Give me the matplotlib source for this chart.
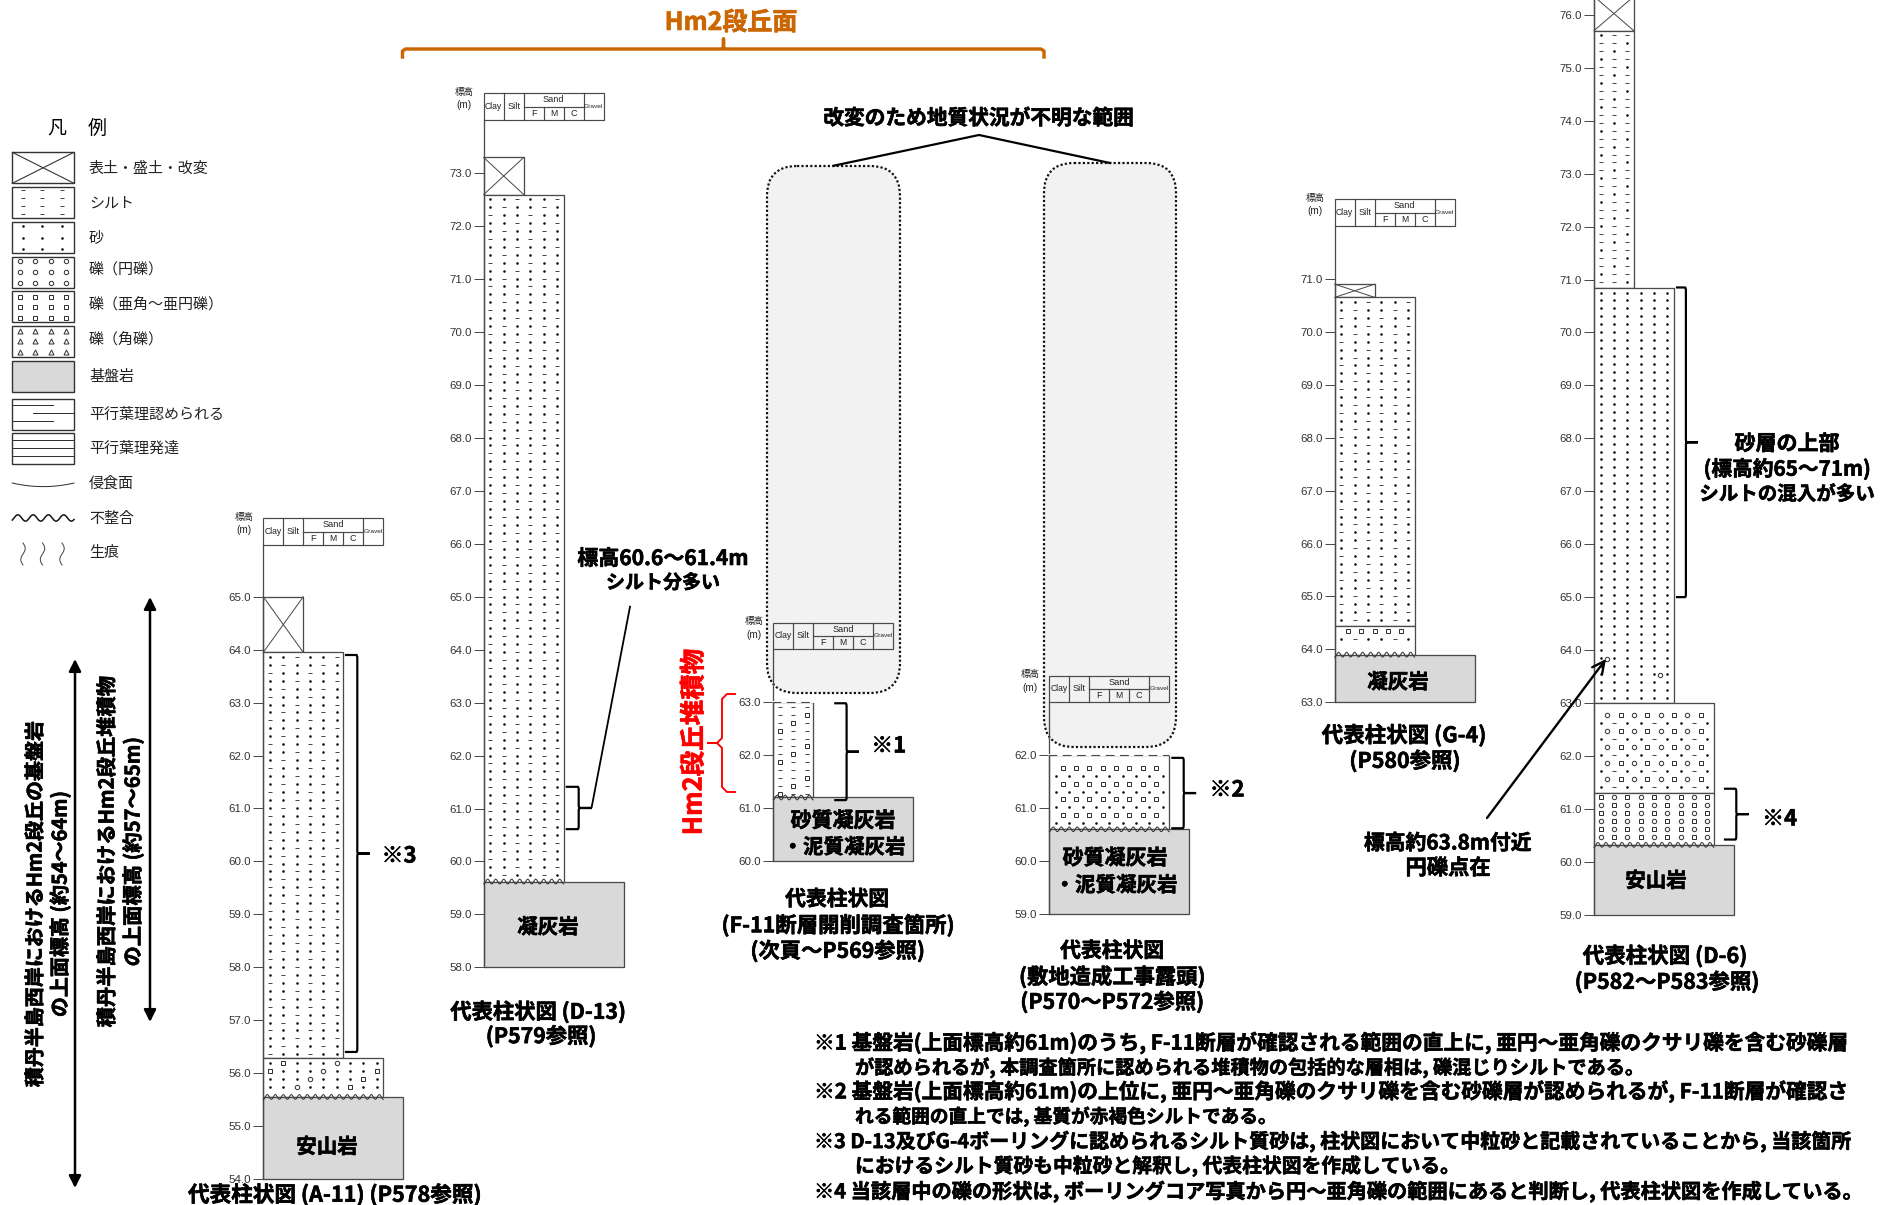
import numpy as np
import matplotlib
matplotlib.use("Agg")
import matplotlib.pyplot as plt
import matplotlib.patheffects as pe
from matplotlib.patches import Rectangle, FancyBboxPatch, PathPatch
from matplotlib.path import Path

W, H = 1896, 1205
PX_PER_M = 52.93
UNIT_PX = 20.0

# ---------- data ----------
HEADER_CLASSES = ["Clay", "Silt", "F", "M", "C", "Gravel"]

A11_TOPS = [65.0, 63.95, 56.28, 55.55]
A11_BOTS = [63.95, 56.28, 55.55, 54.0]
A11_WIDTHS = [2, 4, 6, 7]
A11_KINDS = ["fill", "silty", "gravel_a11", "rock"]
A11_TICKS = [54, 55, 56, 57, 58, 59, 60, 61, 62, 63, 64, 65]

D13_TOPS = [73.3, 72.6, 59.62]
D13_BOTS = [72.6, 59.62, 58.0]
D13_WIDTHS = [2, 4, 7]
D13_KINDS = ["fill", "silty", "rock"]
D13_TICKS = list(range(58, 74))

F11_TOPS = [63.0, 61.2]
F11_BOTS = [61.2, 60.0]
F11_WIDTHS = [2, 7]
F11_KINDS = ["silt_gravel", "rock"]
F11_TICKS = [60, 61, 62, 63]

SITE_TOPS = [62.0, 60.6]
SITE_BOTS = [60.6, 59.0]
SITE_WIDTHS = [6, 7]
SITE_KINDS = ["gravel_site", "rock"]
SITE_TICKS = [59, 60, 61, 62]

G4_TOPS = [70.9, 70.65, 64.44, 63.9]
G4_BOTS = [70.65, 64.44, 63.9, 63.0]
G4_WIDTHS = [2, 4, 4, 7]
G4_KINDS = ["fill", "silty", "gravel_g4", "rock"]
G4_TICKS = list(range(63, 72))

D6_TOPS = [76.35, 75.7, 70.84, 63.0, 61.3, 60.32]
D6_BOTS = [75.7, 70.84, 63.0, 61.3, 60.32, 59.0]
D6_WIDTHS = [2, 2, 4, 6, 6, 7]
D6_KINDS = ["fill", "silty_d6", "sand", "gravel_d6u", "gravel_d6l", "rock"]
D6_TICKS = list(range(59, 77))
D6_CIRCLE_X = [0.64, 3.3]
D6_CIRCLE_E = [63.83, 63.53]

LEGEND_LABELS = ["表土・盛土・改変", "シルト", "砂", "礫（円礫）", "礫（亜角～亜円礫）", "礫（角礫）",
                 "基盤岩", "平行葉理認められる", "平行葉理発達", "侵食面", "不整合", "生痕"]

NOTES = [
    "※1 基盤岩(上面標高約61m)のうち, F-11断層が確認される範囲の直上に, 亜円～亜角礫のクサリ礫を含む砂礫層",
    "が認められるが, 本調査箇所に認められる堆積物の包括的な層相は, 礫混じりシルトである。",
    "※2 基盤岩(上面標高約61m)の上位に, 亜円～亜角礫のクサリ礫を含む砂礫層が認められるが, F-11断層が確認さ",
    "れる範囲の直上では, 基質が赤褐色シルトである。",
    "※3 D-13及びG-4ボーリングに認められるシルト質砂は, 柱状図において中粒砂と記載されていることから, 当該箇所",
    "におけるシルト質砂も中粒砂と解釈し, 代表柱状図を作成している。",
    "※4 当該層中の礫の形状は, ボーリングコア写真から円～亜角礫の範囲にあると判断し, 代表柱状図を作成している。",
]

# ---------- style ----------
JP = "Noto Sans CJK JP"
LAT = ["Liberation Sans"]
NARROW = ["Liberation Sans Narrow", "Liberation Sans"]
LINE = "#4a4a4a"
ROCK = "#D9D9D9"
ORANGE = "#CC6600"
RED = "#FF0000"
def pt(px):
    return px * 0.72

fig = plt.figure(figsize=(W / 100, H / 100), dpi=100, facecolor="white")

under = fig.add_axes([0, 0, 1, 1], zorder=0)
under.set_xlim(0, W); under.set_ylim(H, 0); under.axis("off")
top = fig.add_axes([0, 0, 1, 1], zorder=5)
top.set_xlim(0, W); top.set_ylim(H, 0); top.axis("off"); top.patch.set_alpha(0)


def T(x, y, s, size=19, weight="bold", color="#000000", rot=0, ha="center", **kw):
    t = top.text(x, y, s, fontsize=pt(size), fontweight=weight, color=color, rotation=rot,
                 ha=ha, va="center", family=[JP, "DejaVu Sans"], rotation_mode="anchor", **kw)
    if weight == "bold":
        t.set_path_effects([pe.withStroke(linewidth=pt(0.6), foreground=color)])
    return t


def marks(ax, xs, ys, kind):
    if len(xs) == 0:
        return
    st = dict(ls="none", clip_on=False, zorder=4)
    if kind == "dot":
        ax.plot(xs, ys, marker="o", ms=pt(2.6), mfc="#111111", mec="#111111", mew=0, **st)
    elif kind == "dash":
        ax.plot(xs, ys, marker="_", ms=pt(5.0), mec="#333333", mew=pt(0.9), **st)
    elif kind == "square":
        ax.plot(xs, ys, marker="s", ms=pt(4.4), mfc="white", mec="#333333", mew=pt(1.0), **st)
    elif kind == "circle":
        ax.plot(xs, ys, marker="o", ms=pt(4.4), mfc="white", mec="#333333", mew=pt(1.0), **st)
    elif kind == "tri":
        ax.plot(xs, ys, marker="^", ms=pt(5), mfc="white", mec="#333333", mew=pt(1.0), **st)


STEP_X = 13.33 / UNIT_PX
STEP_E = 7.95 / PX_PER_M


def pattern(ax, kind, t, b, w):
    rows = [t - (4.5 / PX_PER_M + k * STEP_E) for k in range(int((t - b) / STEP_E) + 1)]
    rows = [r for r in rows if r > b + 1 / PX_PER_M]
    collect = {"dot": [[], []], "dash": [[], []], "square": [[], []], "circle": [[], []]}
    def put(k, x, y):
        collect[k][0].append(x); collect[k][1].append(y)
    n = int(round(w / STEP_X))
    if kind == "silty":
        for r, e in enumerate(rows):
            for i in range(n):
                put("dash" if (i + r) % 3 == 2 else "dot", (i + 0.5) * STEP_X, e)
    elif kind == "silty_d6":
        for r, e in enumerate(rows):
            for i in range(n):
                put("dot" if (i + r) % 3 == 0 else "dash", (i + 0.5) * STEP_X, e)
    elif kind == "sand":
        for r, e in enumerate(rows):
            for i in range(n):
                put("dot", (i + 0.5) * STEP_X, e)
    elif kind == "silt_gravel":
        for r, e in enumerate(rows):
            for i in range(3):
                sq = (r % 4 == 1 and i == 2) or (r % 4 == 2 and i == 1) or (r % 4 == 3 and i == 0)
                put("square" if sq else "dash", (i + 0.5) * STEP_X, e)
    elif kind == "gravel_a11":
        special = {(0, 1): "square", (0, 5): "circle", (1, 0): "square", (1, 4): "circle",
                   (1, 8): "square", (2, 3): "circle", (2, 7): "square", (3, 2): "circle",
                   (3, 6): "square"}
        for r, e in enumerate(rows[:4]):
            for i in range(9):
                put(special.get((r, i), "dot"), (i + 0.5) * STEP_X, e)
    elif kind == "gravel_site":
        for r, e in enumerate(rows[1:]):
            if r % 2 == 0:
                for i in range(8):
                    put("square", (i + 1) * STEP_X, e)
            else:
                for i in range(9):
                    put("dot", (i + 0.5) * STEP_X, e)
    elif kind == "gravel_g4":
        for r, e in enumerate(rows[:2]):
            if r % 2 == 0:
                for i in range(5):
                    put("square", (i + 1) * STEP_X, e)
            else:
                for i in range(6):
                    put("dash" if i % 3 == 1 else "dot", (i + 0.5) * STEP_X, e)
    elif kind == "gravel_d6u":
        for r, e in enumerate(rows[1:]):
            if r % 2 == 0:
                for i in range(8):
                    put("circle" if i % 2 == 0 else "square", (i + 1) * STEP_X, e)
            else:
                for i in range(9):
                    put("dash" if i % 3 == 1 else "dot", (i + 0.5) * STEP_X, e)
    elif kind == "gravel_d6l":
        for r, e in enumerate(rows):
            for i in range(9):
                put("square" if (i + r) % 2 == 0 else "circle", (i + 0.5) * STEP_X, e)
    for k, (xs, ys) in collect.items():
        marks(ax, xs, ys, k)


def brace(ax, x0, e_top, e_bot, color="black", bulge=0.62, tip=0.62, lw=2.2):
    xm = x0 + bulge
    em = (e_top + e_bot) / 2
    r = 3 / PX_PER_M
    verts = [(x0, e_top), (xm - .05, e_top), (xm, e_top), (xm, e_top - r),
             (xm, em + r), (xm, em), (xm + .05, em), (xm + tip, em),
             (xm + .05, em), (xm, em), (xm, em - r),
             (xm, e_bot + r), (xm, e_bot), (xm - .05, e_bot), (x0, e_bot)]
    codes = [Path.MOVETO, Path.LINETO, Path.CURVE3, Path.CURVE3,
             Path.LINETO, Path.CURVE3, Path.CURVE3, Path.LINETO,
             Path.LINETO, Path.CURVE3, Path.CURVE3,
             Path.LINETO, Path.CURVE3, Path.CURVE3, Path.LINETO]
    ax.add_patch(PathPatch(Path(verts, codes), fc="none", ec=color, lw=pt(lw), clip_on=False, zorder=6))


def column(left, ref_e, ref_y, tops, bots, widths, kinds, ticks, header_e=None):
    emin = bots[-1]
    emax = header_e if header_e is not None else max(tops)
    y0 = ref_y + (ref_e - emin) * PX_PER_M
    y1 = ref_y + (ref_e - emax) * PX_PER_M
    ax = fig.add_axes([left / W, 1 - y0 / H, 7 * UNIT_PX / W, (y0 - y1) / H], zorder=2)
    ax.patch.set_alpha(0)
    ax.set_xlim(0, 7); ax.set_ylim(emin, emax)
    for s in ("top", "right", "bottom"):
        ax.spines[s].set_visible(False)
    ax.spines["left"].set_color(LINE); ax.spines["left"].set_linewidth(pt(1.3))
    ax.set_xticks([])
    ax.set_yticks(ticks)
    ax.set_yticklabels([f"{v:.1f}" for v in ticks], family=LAT, fontsize=pt(11.5), color="#333333")
    ax.tick_params(axis="y", length=pt(10), width=pt(1.0), color=LINE, pad=pt(2))
    for t, b, w, k in zip(tops, bots, widths, kinds):
        fc = ROCK if k == "rock" else "white"
        ax.add_patch(Rectangle((0, b), w, t - b, fc=fc, ec=LINE, lw=pt(1.3), clip_on=False, zorder=2))
        if k == "fill":
            ax.plot([0, w], [t, b], color=LINE, lw=pt(1.0), clip_on=False, zorder=3)
            ax.plot([0, w], [b, t], color=LINE, lw=pt(1.0), clip_on=False, zorder=3)
        elif k != "rock":
            pattern(ax, k, t, b, w)
    # header
    if header_e is not None:
        h = 26.6 / PX_PER_M
        hb, ht = header_e, header_e + h
        hs = dict(color=LINE, lw=pt(1.2), clip_on=False, zorder=3)
        ax.add_patch(Rectangle((0, hb), 6, h, fc="none", ec=LINE, lw=pt(1.2), clip_on=False))
        for xv in (1, 2, 5):
            ax.plot([xv, xv], [hb, ht], **hs)
        ax.plot([2, 5], [hb + h / 2] * 2, **hs)
        for xv in (3, 4):
            ax.plot([xv, xv], [hb, hb + h / 2], **hs)
        hc = dict(ha="center", va="center", family=NARROW, color="#222222", clip_on=False)
        ax.text(.5, hb + h / 2, HEADER_CLASSES[0], fontsize=pt(8.6), **hc)
        ax.text(1.5, hb + h / 2, HEADER_CLASSES[1], fontsize=pt(9.2), **hc)
        ax.text(2.5, hb + h / 4, HEADER_CLASSES[2], fontsize=pt(9.2), **hc)
        ax.text(3.5, hb + h / 4, HEADER_CLASSES[3], fontsize=pt(8.6), **hc)
        ax.text(4.5, hb + h / 4, HEADER_CLASSES[4], fontsize=pt(9.2), **hc)
        ax.text(3.5, hb + h * .75, "Sand", fontsize=pt(9.2), **hc)
        ax.text(5.5, hb + h / 2, HEADER_CLASSES[5], fontsize=pt(6.5), **hc)
        ax.text(-.97, ht + 1.2 / PX_PER_M, "標高", fontsize=pt(9.5), ha="center", va="center",
                family=[JP], color="#222222", clip_on=False)
        ax.text(-.97, ht - 12 / PX_PER_M, "(m)", fontsize=pt(10), ha="center", va="center",
                family=LAT, color="#222222", clip_on=False)
    # unconformity
    for i, k in enumerate(kinds):
        if k == "rock" and i > 0:
            w_up = widths[i - 1]
            xw = np.linspace(0, w_up, int(w_up * 30))
            e0 = tops[i]
            yw = e0 + (-2.4 * np.cos(2 * np.pi * xw * UNIT_PX / 8.0)) / PX_PER_M
            ax.plot(xw, yw, color="#333333", lw=pt(1.0), clip_on=False, zorder=4)
    return ax


# ---------- unknown ranges ----------
for x0, x1, y0, y1 in [(767, 900, 166, 693), (1044, 1176, 163, 747)]:
    under.add_patch(FancyBboxPatch((x0 + 30, y0 + 30), x1 - x0 - 60, y1 - y0 - 60,
                                   boxstyle="round,pad=30,rounding_size=30", fc="#F2F2F2",
                                   ec="#111111", lw=pt(2.2), ls=(0, (1, 1))))

# ---------- columns ----------
a11 = column(263.3, 54, 1179, A11_TOPS, A11_BOTS, A11_WIDTHS, A11_KINDS, A11_TICKS, header_e=65.98)
d13 = column(483.7, 58, 967.3, D13_TOPS, D13_BOTS, D13_WIDTHS, D13_KINDS, D13_TICKS, header_e=74.01)
f11 = column(773.2, 60, 861, F11_TOPS, F11_BOTS, F11_WIDTHS, F11_KINDS, F11_TICKS, header_e=64.0)
site = column(1049.3, 59, 914, SITE_TOPS, SITE_BOTS, SITE_WIDTHS, SITE_KINDS, SITE_TICKS, header_e=63.0)
g4 = column(1334.7, 63, 702.3, G4_TOPS, G4_BOTS, G4_WIDTHS, G4_KINDS, G4_TICKS, header_e=72.0)
d6 = column(1593.9, 59, 914.7, D6_TOPS, D6_BOTS, D6_WIDTHS, D6_KINDS, D6_TICKS)
marks(d6, D6_CIRCLE_X, D6_CIRCLE_E, "circle")

# dashed top edges on the two outcrops
for ax, e, w in ((f11, 63.0, 2), (site, 62.0, 6)):
    ax.plot([0, w], [e, e], color="white", lw=pt(2), clip_on=False, zorder=3)
    ax.plot([-.05, w], [e, e], color=LINE, lw=pt(1.1), ls=(0, (8, 5)), clip_on=False, zorder=3)

# brackets in elevation units
brace(a11, 4.08, 63.9, 56.4)
brace(d13, 4.1, 61.41, 60.61, bulge=.65, tip=.65)
brace(f11, 3.05, 62.98, 61.15)
brace(site, 6.1, 61.95, 60.62)
brace(d6, 6.5, 61.38, 60.42)
brace(d6, 4.1, 70.85, 65.0, bulge=.5, tip=.6)

# ---------- legend ----------
T(57, 128, "凡", size=19, weight="regular")
T(97, 128, "例", size=19, weight="regular")
BOX_TOPS = [152.3, 187.3, 221.7, 256.7, 291.3, 325.7, 360.7, 398.7, 433.3]
for yt in BOX_TOPS:
    top.add_patch(Rectangle((12.3, yt), 61.7, 31, fc="white", ec="#333333", lw=pt(1.4), zorder=1))
top.patches[6].set_facecolor(ROCK)
top.plot([12.3, 74], [152.3, 183.3], color="#333333", lw=pt(1.1))
top.plot([12.3, 74], [183.3, 152.3], color="#333333", lw=pt(1.1))
xs3 = [23.5, 42.5, 62]
xs4 = [20, 35.5, 50.7, 66]
for y in (190, 197.5, 205.7, 213.5):
    marks(top, xs3, [y] * 3, "dash")
for y in (226, 237.5, 249):
    marks(top, xs3, [y] * 3, "dot")
for kind, yy in (("circle", (261, 272, 282.5)), ("square", (296.5, 306.5, 317.5)), ("tri", (330.5, 340.5, 351.5))):
    for y in yy:
        marks(top, xs4, [y] * 4, kind)
for xa, xb, y in ((12.3, 53, 405), (33, 74, 413), (12.3, 53, 421)):
    top.plot([xa, xb], [y, y], color="#333333", lw=pt(1.0))
for y in (440, 448, 456):
    top.plot([12.3, 74], [y, y], color="#333333", lw=pt(1.0))
xe = np.linspace(12.3, 74, 60)
top.plot(xe, 483 + 3.6 * (1 - ((xe - 43.2) / 30.9) ** 2), color="#333333", lw=pt(1.0))
top.plot(xe, 518 - 3.2 * np.sin(2 * np.pi * (xe - 14) / 15.3), color="#111111", lw=pt(1.5))
yb = np.linspace(543, 565, 40)
for xb in (23, 42.5, 62):
    top.plot(xb + 2.2 * np.sin(2 * np.pi * (yb - 543) / 22), yb, color="#444444", lw=pt(1.0))
LEG_Y = [169, 203.5, 238, 270, 305, 340.5, 376.5, 414.5, 449, 484, 518.5, 553.5]
for y, s in zip(LEG_Y, LEGEND_LABELS):
    T(89, y, s, size=15, weight="regular", ha="left", color="#222222")

# ---------- arrows + axis titles ----------
for x, y0, y1 in ((150, 597, 1022), (75, 659, 1188)):
    top.annotate("", xy=(x, y0), xytext=(x, y1),
                 arrowprops=dict(arrowstyle="<|-|>", color="black", lw=1.8, mutation_scale=18, shrinkA=0, shrinkB=0))
T(107, 852, "積丹半島西岸におけるHm2段丘堆積物", size=20.3, rot=90)
T(133, 852, "の上面標高 (約57～65m)", size=20.3, rot=90)
T(35, 904, "積丹半島西岸におけるHm2段丘の基盤岩", size=20, rot=90)
T(60, 904, "の上面標高 (約54～64m)", size=20, rot=90)

# ---------- top labels ----------
T(731, 23, "Hm2段丘面", size=25, color=ORANGE)
bx0, bx1, bm, by, byt, byb = 402.5, 1044, 723.5, 49, 39, 57
top.plot([bx0, bx0, bx0 + 3, bm - 1, bm, bm, bm, bm + 1, bx1 - 3, bx1, bx1],
         [byb, by + 2, by, by, by - 1, byt, by - 1, by, by, by + 2, byb],
         color=ORANGE, lw=pt(3.4), solid_joinstyle="round")
T(978, 118, "改変のため地質状況が不明な範囲", size=20.7)
top.plot([833.7, 979, 1110], [165.7, 135, 163], color="black", lw=pt(2.2))

# ---------- labels on columns ----------
T(663, 558.5, "標高60.6～61.4m", size=21)
T(663, 583, "シルト分多い", size=19)
top.plot([630, 591.7], [606.7, 807], color="black", lw=pt(1.8))
T(399, 856, "※3", size=22)
T(888.6, 746, "※1", size=22)
T(1227, 790, "※2", size=22)
T(1779.6, 819, "※4", size=22)

# red bracket + label
T(694, 742, "Hm2段丘堆積物", size=25.5, color=RED, rot=90)
top.plot([735, 727, 722, 722, 717, 708, 717, 722, 722, 727, 735],
         [694, 694, 699, 738, 743, 743, 743, 748, 787, 792, 792], color=RED, lw=pt(1.9))

T(843, 820.7, "砂質凝灰岩", size=21)
T(844, 847, "・泥質凝灰岩", size=20.5)
T(1115, 858, "砂質凝灰岩", size=21)
T(1116, 885, "・泥質凝灰岩", size=20.5)
T(1398, 682, "凝灰岩", size=20.5)
T(1656, 880.7, "安山岩", size=20.5)
T(548, 927, "凝灰岩", size=20.5)
T(327, 1146.7, "安山岩", size=20.5)

# captions
T(335, 1195, "代表柱状図 (A-11) (P578参照)", size=21.6)
T(538, 1011.7, "代表柱状図 (D-13)", size=21.3)
T(541, 1036, "(P579参照)", size=21.3)
T(837, 899, "代表柱状図", size=20.8)
T(838, 925, "(F-11断層開削調査箇所)", size=21.4)
T(837.5, 950.7, "(次頁～P569参照)", size=21.3)
T(1112, 950.7, "代表柱状図", size=20.8)
T(1112, 976.7, "(敷地造成工事露頭)", size=21.3)
T(1112, 1001.7, "(P570～P572参照)", size=21.3)
T(1404, 735, "代表柱状図 (G-4)", size=21.5)
T(1405, 760.7, "(P580参照)", size=21.4)
T(1665, 955.7, "代表柱状図 (D-6)", size=21.5)
T(1667, 981.7, "(P582～P583参照)", size=21.4)
T(1447.6, 843, "標高約63.8m付近", size=20.8)
T(1448, 868, "円礫点在", size=21.3)
top.annotate("", xy=(1606, 659), xytext=(1487, 818),
             arrowprops=dict(arrowstyle="->", color="black", lw=1.7, mutation_scale=22, shrinkA=0, shrinkB=0))
T(1787, 443.7, "砂層の上部", size=21)
T(1787, 469, "(標高約65～71m)", size=20.7)
T(1787, 494.5, "シルトの混入が多い", size=19.5)

# notes
NOTE_Y = [1043, 1067.7, 1091.7, 1116.7, 1141.7, 1166, 1191.7]
NOTE_SIZE = [20.7, 19.2, 20.7, 18.7, 20.0, 19.8, 20.2]
for y, s, sz in zip(NOTE_Y, NOTES, NOTE_SIZE):
    T(814 if s.startswith("※") else 855, y, s, size=sz, ha="left")

fig.savefig("out.png", dpi=100, facecolor="white")
